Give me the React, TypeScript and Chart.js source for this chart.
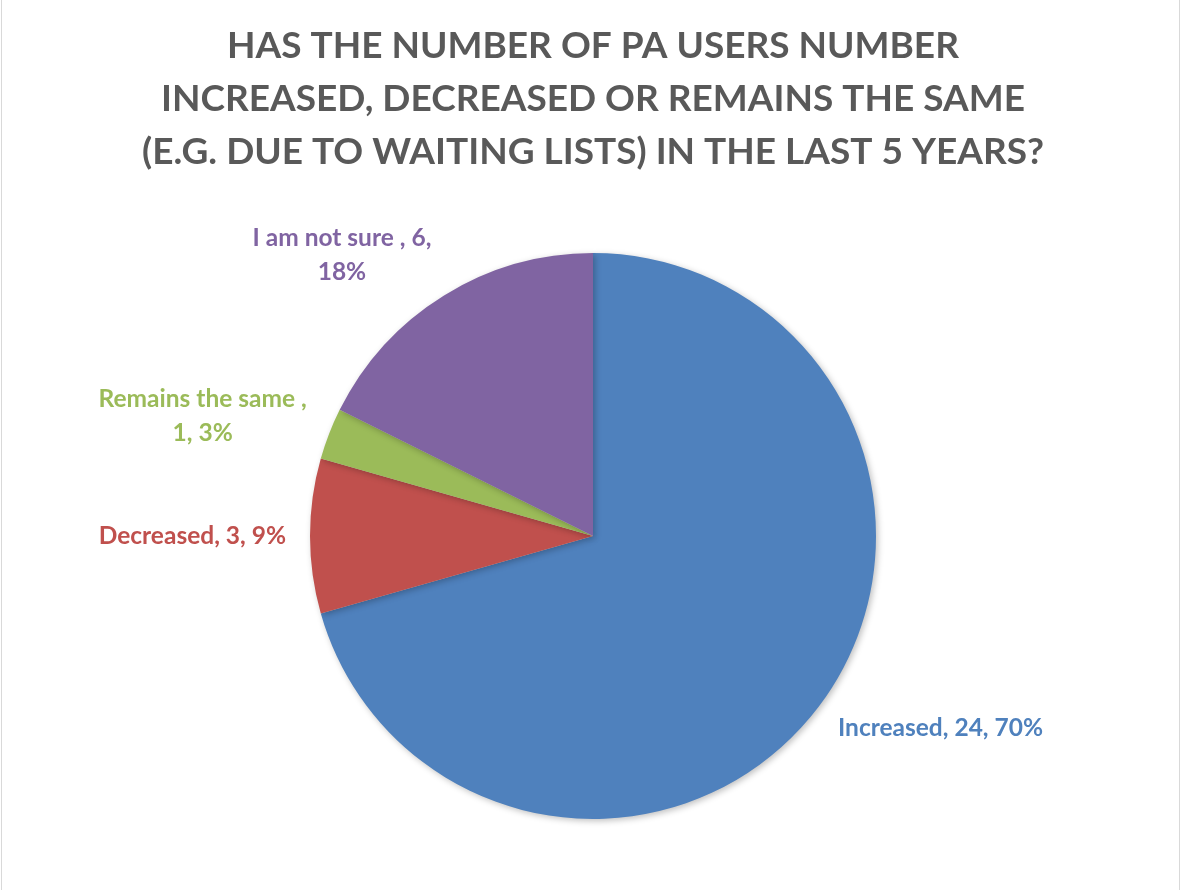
import React, { useEffect, useRef } from "react";
import { Chart, registerables } from "chart.js";

Chart.register(...registerables);

const categories = ["Increased", "Decreased", "Remains the same ", "I am not sure "];
const values = [24, 3, 1, 6];
const percentLabels = ["70%", "9%", "3%", "18%"];
const colors = ["#4F81BD", "#C0504D", "#9BBB59", "#8064A2"];
const titleLines = [
  "HAS THE NUMBER OF PA USERS NUMBER",
  "INCREASED, DECREASED OR REMAINS THE SAME",
  "(E.G. DUE TO WAITING LISTS) IN THE LAST 5 YEARS?",
];

const FONT = "Lato, 'Open Sans', sans-serif";
const LABEL_SIZE = 24.5;
const LABEL_LINE = 34;
const WRAP_WIDTH = 214;

function wrap(ctx: CanvasRenderingContext2D, text: string, maxW: number): string[] {
  const words = text.split(" ");
  const lines: string[] = [];
  let cur = "";
  for (const w of words) {
    const test = cur ? cur + " " + w : w;
    if (cur && ctx.measureText(test).width > maxW) {
      lines.push(cur);
      cur = w;
    } else {
      cur = test;
    }
  }
  if (cur) lines.push(cur);
  return lines;
}

const labelPlugin = {
  id: "outsideLabels",
  afterDatasetsDraw(chart: any) {
    const ctx: CanvasRenderingContext2D = chart.ctx;
    const meta = chart.getDatasetMeta(0);
    ctx.save();
    ctx.font = `bold ${LABEL_SIZE}px ${FONT}`;
    meta.data.forEach((arc: any, i: number) => {
      const p = arc.getProps(["x", "y", "startAngle", "endAngle", "outerRadius"], true);
      const mid = (p.startAngle + p.endAngle) / 2;
      const cos = Math.cos(mid);
      const sin = Math.sin(mid);
      const d = p.outerRadius + 24;
      const ax = p.x + cos * d;
      const ay = p.y + sin * d;
      const text = `${categories[i]}, ${values[i]}, ${percentLabels[i]}`;
      const lines = wrap(ctx, text, WRAP_WIDTH);
      const h = lines.length * LABEL_LINE;
      const blockW = Math.max(...lines.map((l) => ctx.measureText(l).width));
      const cy = ay + (sin * h) / 2 * 0.7;
      const cx = cos >= 0 ? ax + blockW / 2 : ax - blockW / 2;
      ctx.fillStyle = colors[i];
      ctx.textAlign = "center";
      ctx.textBaseline = "middle";
      lines.forEach((l, k) => {
        ctx.fillText(l, cx, cy - h / 2 + LABEL_LINE * (k + 0.5));
      });
    });
    ctx.restore();
  },
};

const shadowPlugin = {
  id: "pieShadow",
  beforeDatasetsDraw(chart: any) {
    const ctx = chart.ctx;
    ctx.save();
    ctx.shadowColor = "rgba(0,0,0,0.25)";
    ctx.shadowBlur = 6;
    ctx.shadowOffsetX = 2;
    ctx.shadowOffsetY = 2;
  },
  afterDatasetsDraw(chart: any) {
    chart.ctx.restore();
  },
};

export default function App() {
  const ref = useRef<HTMLCanvasElement | null>(null);
  useEffect(() => {
    if (!ref.current) return;
    const chart = new Chart(ref.current, {
      type: "pie",
      data: {
        labels: categories,
        datasets: [
          {
            data: values,
            backgroundColor: colors,
            borderWidth: 0,
          },
        ],
      },
      options: {
        animation: false,
        responsive: false,
        layout: { padding: { left: 3, right: 0, top: 0, bottom: 71 } },
        plugins: {
          legend: { display: false },
          tooltip: { enabled: false },
          title: {
            display: true,
            text: titleLines,
            color: "#595959",
            font: { family: FONT, size: 37, weight: "bold", lineHeight: 53 / 37 },
            padding: { top: 20, bottom: 74 },
          },
        },
      },
      plugins: [shadowPlugin, labelPlugin],
    });
    return () => chart.destroy();
  }, []);
  return (
    <div style={{ position: "fixed", left: 0, top: 0, width: 1183, height: 890, background: "#fff" }}>
      <canvas ref={ref} width={1183} height={890} style={{ position: "absolute", left: 0, top: 0 }} />
      <div style={{ position: "absolute", left: 1, top: 0, width: 1, height: 890, background: "#D9D9D9" }} />
      <div style={{ position: "absolute", left: 1179, top: 0, width: 1, height: 890, background: "#D9D9D9" }} />
    </div>
  );
}
